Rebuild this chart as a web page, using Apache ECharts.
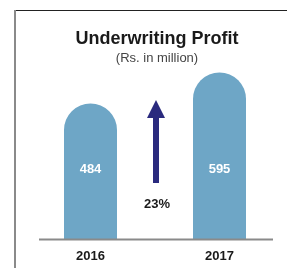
<!DOCTYPE html>
<html>
<head>
<meta charset="utf-8">
<title>Underwriting Profit</title>
<script src="https://cdn.jsdelivr.net/npm/echarts@6/dist/echarts.min.js"></script>
<style>
  html, body { margin: 0; padding: 0; background: #ffffff; }
  #chart { width: 287px; height: 268px; }
</style>
</head>
<body>
<div id="chart"></div>
<script>
// === DATA ===
const years = ['2016', '2017'];
const profit = [484, 595];
const growthLabel = '23%';

// === STYLE ===
const BAR_COLOR = '#6ea6c6';
const ARROW_COLOR = '#2a2a7e';
const TEXT_COLOR = '#1a1a1a';

const chart = echarts.init(document.getElementById('chart'), null, { renderer: 'canvas' });

chart.setOption({
    backgroundColor: '#ffffff',
    animation: false,
    title: {
        text: 'Underwriting Profit',
        subtext: '(Rs. in million)',
        left: 152,
        textAlign: 'center',
        top: 25,
        itemGap: 4,
        textStyle: { fontFamily: 'Liberation Sans', fontSize: 18, fontWeight: 'bold', color: TEXT_COLOR },
        subtextStyle: { fontFamily: 'Liberation Sans', fontSize: 13, color: '#444444' }
    },
    grid: { left: 26, right: 3, top: 71, bottom: 29 },
    xAxis: {
        type: 'category',
        data: years,
        axisLine: { show: false },
        axisTick: { show: false },
        axisLabel: {
            margin: 11,
            fontFamily: 'Liberation Sans',
            fontSize: 13,
            fontWeight: 'bold',
            color: TEXT_COLOR
        }
    },
    yAxis: {
        type: 'value',
        min: 0,
        max: 600,
        show: false
    },
    series: [{
        type: 'bar',
        data: profit,
        barWidth: 53,
        itemStyle: { color: BAR_COLOR, borderRadius: [26.5, 26.5, 0, 0] },
        label: {
            show: true,
            position: 'insideBottom',
            distance: 63,
            fontFamily: 'Liberation Sans',
            fontSize: 13,
            fontWeight: 'bold',
            color: '#ffffff'
        }
    }],
    graphic: [
        // frame
        { type: 'line', shape: { x1: 15, y1: 10.5, x2: 287, y2: 10.5 }, style: { stroke: '#222222', lineWidth: 1 } },
        { type: 'line', shape: { x1: 15, y1: 10, x2: 15, y2: 268 }, style: { stroke: '#8a8a8a', lineWidth: 2 } },
        // baseline
        { type: 'line', shape: { x1: 39, y1: 239.5, x2: 273, y2: 239.5 }, style: { stroke: '#8a8a8a', lineWidth: 2 }, z: 10 },
        // growth arrow
        { type: 'rect', shape: { x: 153, y: 116, width: 6, height: 67 }, style: { fill: ARROW_COLOR } },
        { type: 'polygon', shape: { points: [[156, 100], [147, 118], [165, 118]] }, style: { fill: ARROW_COLOR } },
        {
            type: 'text', x: 157, y: 204,
            style: {
                text: growthLabel, align: 'center', verticalAlign: 'middle',
                font: 'bold 13px "Liberation Sans"', fill: TEXT_COLOR
            }
        }
    ]
});
</script>
</body>
</html>
